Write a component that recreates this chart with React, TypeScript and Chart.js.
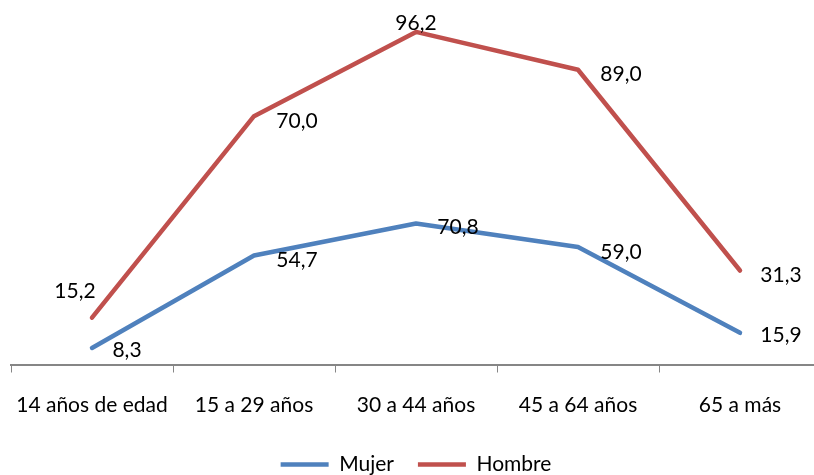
import React, { useEffect, useRef } from "react";
import { Chart, registerables } from "chart.js";

Chart.register(...registerables);

const categories = ["14 años de edad", "15 a 29 años", "30 a 44 años", "45 a 64 años", "65 a más"];
const mujer = [8.3, 54.7, 70.8, 59.0, 15.9];
const hombre = [15.2, 70.0, 96.2, 89.0, 31.3];

// label placement (style): [dx, dy] of label centre relative to its point
const mujerLabelOffset = [[35, 2], [43, 5], [42, 4], [43, 5], [41, 2]];
const hombreLabelOffset = [[-17, -26], [43, 5], [0, -9], [43, 5], [41, 5]];

const FONT = "Lato";

const labelPlugin = {
  id: "valueLabels",
  afterDatasetsDraw(chart: any) {
    const ctx = chart.ctx;
    ctx.save();
    ctx.font = `21px ${FONT}`;
    ctx.fillStyle = "#000000";
    ctx.textAlign = "center";
    ctx.textBaseline = "middle";
    const offsets = [mujerLabelOffset, hombreLabelOffset];
    chart.data.datasets.forEach((ds: any, di: number) => {
      const meta = chart.getDatasetMeta(di);
      meta.data.forEach((el: any, i: number) => {
        const v = ds.data[i] as number;
        const [dx, dy] = offsets[di][i];
        ctx.fillText(v.toFixed(1).replace(".", ","), el.x + dx, el.y + dy);
      });
    });
    ctx.restore();
  },
};

export default function App() {
  const ref = useRef<HTMLCanvasElement>(null);
  useEffect(() => {
    if (!ref.current) return;
    const chart = new Chart(ref.current, {
      type: "line",
      data: {
        labels: categories,
        datasets: [
          {
            label: "Mujer",
            data: mujer,
            borderColor: "#4F81BD",
            backgroundColor: "#4F81BD",
            borderWidth: 4.5,
            pointRadius: 0,
            fill: false,
            tension: 0,
            borderCapStyle: "round",
            borderJoinStyle: "round",
          },
          {
            label: "Hombre",
            data: hombre,
            borderColor: "#C0504D",
            backgroundColor: "#C0504D",
            borderWidth: 4.5,
            pointRadius: 0,
            fill: false,
            tension: 0,
            borderCapStyle: "round",
            borderJoinStyle: "round",
          },
        ],
      },
      options: {
        responsive: false,
        animation: false,
        layout: { padding: { left: 11, right: 9, top: 6, bottom: 0 } },
        plugins: {
          tooltip: { enabled: false },
          legend: {
            position: "bottom",
            labels: {
              font: { family: FONT, size: 21 },
              color: "#000000",
              usePointStyle: true,
              pointStyle: "line",
              pointStyleWidth: 48,
              boxWidth: 48,
              padding: 24,
            },
          },
        },
        scales: {
          x: {
            offset: true,
            grid: {
              offset: true,
              drawOnChartArea: false,
              drawTicks: true,
              tickLength: 8,
              color: "#868686",
              lineWidth: 1,
            },
            border: { display: true, color: "#868686", width: 2 },
            ticks: {
              font: { family: FONT, size: 21 },
              color: "#000000",
              padding: 20,
              maxRotation: 0,
              autoSkip: false,
            },
            afterFit: (scale: any) => {
              scale.height = 65.5;
              scale.paddingLeft = 0;
              scale.paddingRight = 0;
            },
          },
          y: {
            display: false,
            stacked: true,
            min: 0,
            max: 180,
          },
        },
      },
      plugins: [labelPlugin],
    });
    return () => chart.destroy();
  }, []);
  return (
    <div style={{ position: "absolute", left: 0, top: 0, width: 814, height: 475, overflow: "hidden", background: "#fff" }}>
      <canvas ref={ref} width={830} height={485} style={{ display: "block" }} />
    </div>
  );
}
